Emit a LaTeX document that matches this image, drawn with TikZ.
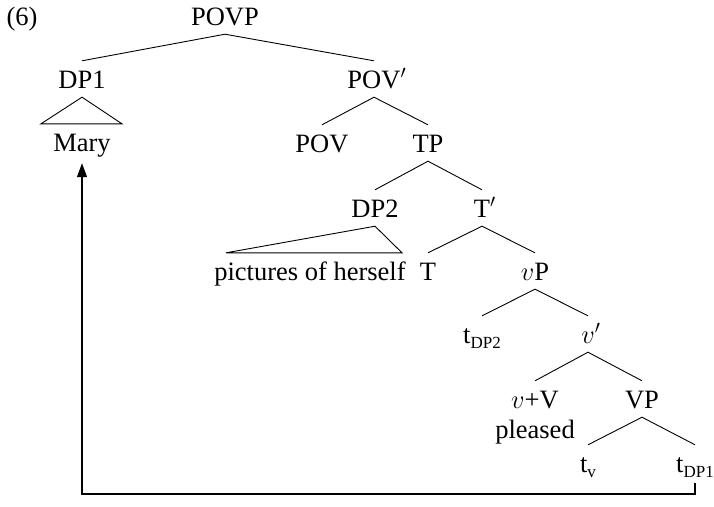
\RequirePackage{fix-cm}
\documentclass[tikz,border=0pt]{standalone}
\usepackage{fontspec}
\setmainfont{Liberation Serif}
\usetikzlibrary{arrows.meta,calc}
% lowered, smaller index on a trace
\newcommand\tsub[1]{\raisebox{-5pt}{\fontsize{17}{17}\selectfont #1}}
\begin{document}
\begin{tikzpicture}[x=1pt,y=-1pt,
  every node/.style={font=\fontsize{26.5}{30}\selectfont},
  cat/.style={anchor=base, inner xsep=2pt, inner ysep=5pt,
              text height=22pt, text depth=4pt},
  branch/.style={line width=0.9pt},
  move/.style={line width=1.1pt, -{Triangle[length=14pt,width=10pt]}}]
\useasboundingbox (0,0) rectangle (714,506);

% example number
\node[anchor=base west] (ex) at (3,25) {(6)};

% tree labels
\node[cat] (povp)    at (225,25)  {POVP};
\node[cat] (dp1)     at (82,88)   {DP1};
\node[cat] (povbar)  at (374,88)  {POV\rlap{$'$}};
\node[cat] (mary)    at (82,151)  {Mary};
\node[cat] (pov)     at (322,152) {POV};
\node[cat] (tp)      at (428,152) {TP};
\node[cat] (dp2)     at (375,217) {DP2};
\node[cat] (tbar)    at (482,217) {T\rlap{$'$}};
\node[cat] (pics)    at (310,280) {pictures of herself};
\node[cat] (tnode)   at (428,280) {T};
\node[cat] (littlevp) at (535,280) {$v$P};
\node[cat] (tdp2)    at (482,343) {t\tsub{DP2}};
\node[cat] (vbar)    at (588,343) {$v$\rlap{$'$}};
\node[cat] (vv)      at (535,408) {$v$+V};
\node[cat] (pleased) at (535,438) {pleased};
\node[cat] (bigvp)   at (642,408) {VP};
\node[cat] (tv)      at (588,472) {t\tsub{v}};
\node[cat] (tdp1)    at (695,472) {t\tsub{DP1}};

% branches
\draw[branch] (dp1.north) -- (povp.south) -- (povbar.north);
\draw[branch] (pov.north) -- (povbar.south) -- (tp.north);
\draw[branch] (dp2.north) -- (tp.south) -- (tbar.north);
\draw[branch] (tnode.north) -- (tbar.south) -- (littlevp.north);
\draw[branch] (tdp2.north) -- (littlevp.south) -- (vbar.north);
\draw[branch] (vv.north) -- (vbar.south) -- (bigvp.north);
\draw[branch] (tv.north) -- (bigvp.south) -- (tdp1.north);

% unanalysed phrases
\draw[branch] (dp1.south) -- ($(mary.north)+(-41,0)$) -- ($(mary.north)+(40,0)$) -- cycle;
\draw[branch] (dp2.south) -- ($(pics.north)+(-84,0)$) -- ($(pics.north)+(92,0)$) -- cycle;

% movement of DP1
\coordinate (floor) at (0,494);
\draw[move] ([yshift=-2pt]tdp1.south) -- (tdp1.south |- floor)
  -- (mary.south |- floor) -- ([yshift=-3pt]mary.south);
\end{tikzpicture}
\end{document}
